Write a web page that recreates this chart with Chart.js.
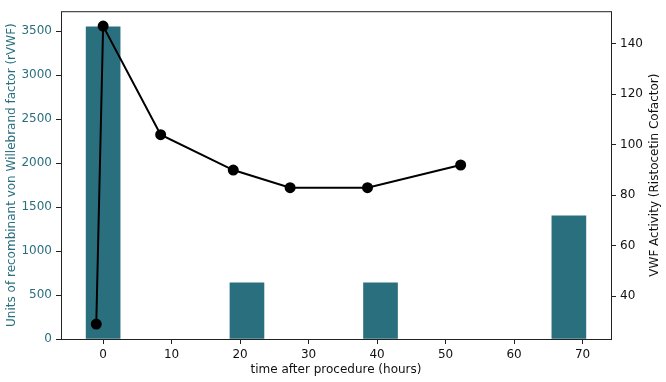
<!DOCTYPE html>
<html>
<head>
<meta charset="utf-8">
<script src="https://cdn.jsdelivr.net/npm/chart.js@4/dist/chart.umd.min.js"></script>
<style>
    html, body { margin: 0; padding: 0; background: #fff; }
    #wrap { width: 666px; height: 382px; }
</style>
</head>
<body>
<div id="wrap"><canvas id="vwf-chart"></canvas></div>
<script>
// rVWF doses given (units) at hours after procedure
const doseHours = [0, 21, 40.5, 68];
const doseUnits = [3550, 640, 640, 1400];

// VWF activity (ristocetin cofactor) measurements
const activityHours = [-1, 0, 8.4, 19, 27.3, 38.6, 52.2];
const activityValues = [29, 147, 104, 90, 83, 83, 92];

const xTicks = [0, 10, 20, 30, 40, 50, 60, 70];
const unitTicks = [0, 500, 1000, 1500, 2000, 2500, 3000, 3500];
const activityTicks = [40, 60, 80, 100, 120, 140];

const teal = "#2a6f7e";
const font = { family: "DejaVu Sans", size: 12 };

function fixedTicks(values) {
    return (scale) => {
        scale.ticks = values.map((value) => ({ value }));
    };
}

const plain = (value) => String(value);

const frame = {
    id: "frame",
    afterDraw(chart) {
        const { ctx, chartArea: a } = chart;
        ctx.save();
        ctx.strokeStyle = "#222";
        ctx.lineWidth = 1;
        ctx.strokeRect(a.left + 0.5, a.top + 0.5, a.right - a.left, a.bottom - a.top);

        ctx.fillStyle = "#111";
        ctx.font = "12px 'DejaVu Sans'";
        ctx.textAlign = "center";
        ctx.textBaseline = "middle";
        ctx.translate(655, (a.top + a.bottom) / 2);
        ctx.rotate(-Math.PI / 2);
        ctx.fillText("VWF Activity (Ristocetin Cofactor)", 0, 0);
        ctx.restore();
    },
};

new Chart(document.getElementById("vwf-chart"), {
    type: "bar",
    data: {
        datasets: [
            {
                type: "line",
                data: activityHours.map((x, i) => ({ x, y: activityValues[i] })),
                yAxisID: "yActivity",
                borderColor: "#000",
                backgroundColor: "#000",
                borderWidth: 2,
                pointRadius: 4.5,
                tension: 0,
                order: 0,
            },
            {
                type: "bar",
                data: doseHours.map((x, i) => ({ x, y: doseUnits[i] })),
                yAxisID: "yUnits",
                backgroundColor: teal,
                barThickness: 34,
                order: 1,
            },
        ],
    },
    options: {
        responsive: true,
        maintainAspectRatio: false,
        animation: false,
        layout: { padding: { top: 5, left: 0, right: 0, bottom: 0 } },
        plugins: {
            legend: { display: false },
            tooltip: { enabled: false },
        },
        scales: {
            x: {
                type: "linear",
                min: -6.15,
                max: 74.15,
                offset: false,
                afterBuildTicks: fixedTicks(xTicks),
                afterFit(scale) { scale.height = 43; },
                grid: { offset: false, drawOnChartArea: false, drawTicks: true, tickLength: 5, color: "#222" },
                border: { display: false },
                ticks: { color: "#111", font, padding: 4, callback: plain },
                title: {
                    display: true,
                    text: "time after procedure (hours)",
                    color: "#111",
                    font,
                    padding: { top: 0, bottom: 5 },
                },
            },
            yUnits: {
                position: "left",
                min: 0,
                max: 3727.5,
                afterBuildTicks: fixedTicks(unitTicks),
                afterFit(scale) { scale.width = 61; },
                grid: { drawOnChartArea: false, drawTicks: true, tickLength: 5, color: "#222" },
                border: { display: false },
                ticks: { color: teal, font, padding: 4, callback: plain },
                title: {
                    display: true,
                    text: "Units of recombinant von Willebrand factor (rVWF)",
                    color: teal,
                    font,
                    padding: { top: 5, bottom: 0 },
                },
            },
            yActivity: {
                position: "right",
                min: 23.1,
                max: 152.9,
                afterBuildTicks: fixedTicks(activityTicks),
                afterFit(scale) { scale.width = 55; },
                grid: { drawOnChartArea: false, drawTicks: true, tickLength: 5, color: "#222" },
                border: { display: false },
                ticks: { color: "#111", font, padding: 4, callback: plain },
            },
        },
    },
    plugins: [frame],
});
</script>
</body>
</html>
